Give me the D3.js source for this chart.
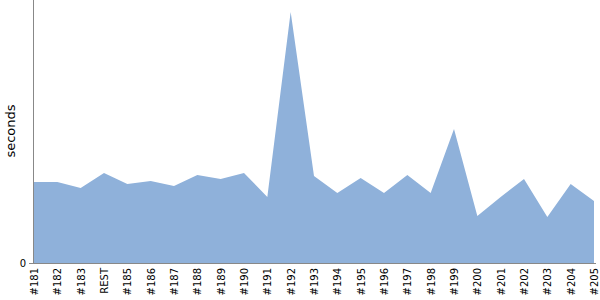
<!DOCTYPE html>
<html>
<head>
<meta charset="utf-8">
<script src="https://cdn.jsdelivr.net/npm/d3@7"></script>
<style>
  body { margin: 0; background: #fff; }
  svg { display: block; font-family: "DejaVu Sans", sans-serif; }
</style>
</head>
<body>
<svg width="600" height="300"></svg>
<script>
// build names along the x axis
var builds = ["#181", "#182", "#183", "REST", "#185", "#186", "#187", "#188", "#189", "#190",
  "#191", "#192", "#193", "#194", "#195", "#196", "#197", "#198", "#199", "#200",
  "#201", "#202", "#203", "#204", "#205"];
// duration per build (seconds)
var seconds = [81, 81, 75, 90, 79, 82, 77, 88, 84, 90,
  66, 251, 87, 70, 85, 70, 88, 70, 134, 47,
  66, 84, 46, 79, 62];
var yTicks = [0];

var svg = d3.select("svg");
var plotLeft = 33, plotRight = 595, plotTop = 0, plotBottom = 263;

var x = d3.scalePoint().domain(builds).range([plotLeft + 1, plotRight - 1]);
var y = d3.scaleLinear().domain([0, 263]).range([plotBottom, plotTop]);

var data = builds.map(function (b, i) {
  return { build: b, value: seconds[i] };
});

var area = d3.area()
  .x(function (d) { return x(d.build); })
  .y0(y(0))
  .y1(function (d) { return y(d.value); });

svg.append("path")
  .datum(data)
  .attr("d", area)
  .attr("fill", "#8fb1da");

// y axis
var yAxis = svg.append("g")
  .attr("transform", "translate(" + plotLeft + ",0)")
  .call(d3.axisLeft(y).tickValues(yTicks).tickSize(4).tickSizeOuter(0));
yAxis.select(".domain").attr("stroke", "#888").attr("d", "M0.5," + plotTop + "V" + plotBottom);
yAxis.selectAll(".tick line").attr("stroke", "#888");
yAxis.selectAll(".tick text").attr("font-size", 10).attr("fill", "#000")
  .attr("font-family", "DejaVu Sans, sans-serif");

// x axis
var xAxis = svg.append("g")
  .attr("transform", "translate(0," + plotBottom + ")")
  .call(d3.axisBottom(x).tickSize(0).tickSizeOuter(0));
xAxis.select(".domain").attr("stroke", "#888").attr("d", "M" + plotLeft + ",0.5H" + (plotRight + 1));
xAxis.selectAll(".tick text")
  .attr("font-size", 10)
  .attr("fill", "#000")
  .attr("font-family", "DejaVu Sans, sans-serif")
  .attr("transform", "rotate(-90)")
  .attr("text-anchor", "end")
  .attr("x", -5)
  .attr("y", 0)
  .attr("dy", "0.35em");

svg.append("text")
  .attr("transform", "translate(15,131) rotate(-90)")
  .attr("text-anchor", "middle")
  .attr("font-size", 13)
  .text("seconds");
</script>
</body>
</html>
